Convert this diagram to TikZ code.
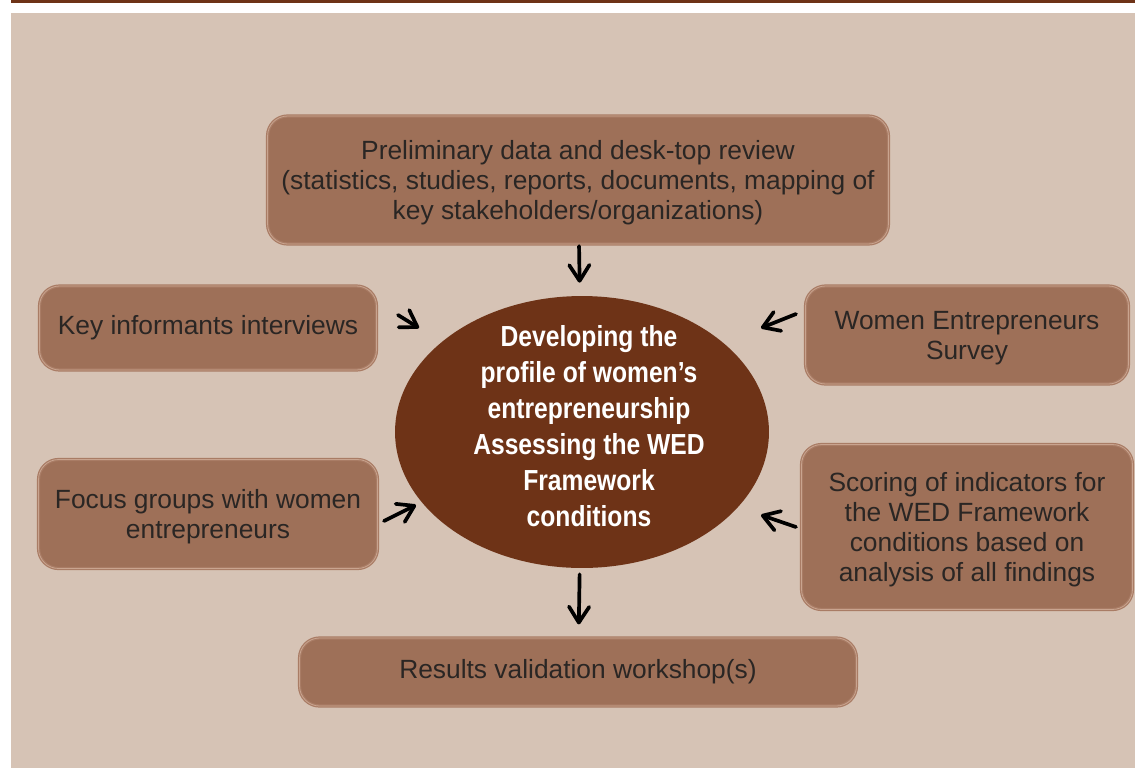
\documentclass[tikz,border=0pt]{standalone}
\usepackage{fontspec}
\setmainfont{Liberation Sans}
\newfontfamily\centrefont{Liberation Sans}[FakeStretch=0.85]
\usetikzlibrary{arrows.meta,shapes.geometric}
\definecolor{barbrown}{HTML}{6E3317}
\definecolor{paper}{HTML}{D6C3B5}
\definecolor{boxfill}{HTML}{9E7058}
\definecolor{boxedge}{HTML}{A97C65}
\definecolor{boxline}{HTML}{C9A48F}
\definecolor{ink}{HTML}{2A2624}
\tikzset{
  box/.style={rectangle, rounded corners=0.4cm, fill=boxfill, draw=boxedge,
    line width=0.7pt, double=boxline, double distance=0.45pt,
    text=ink, align=center, font=\fontsize{15}{17}\selectfont},
  multi/.style={text depth=-2.6pt},
  multilow/.style={text depth=-6pt},
  centre/.style={ellipse, fill=barbrown, inner sep=0pt},
  centretext/.style={text=white, align=center,
    font=\centrefont\bfseries\fontsize{16.5}{20.5}\selectfont},
  arr/.style={black, line width=2.1pt, line cap=round,
    -{Straight Barb[round, length=9pt, width=11.5pt]}}
}
\begin{document}
\begin{tikzpicture}[x=0.02cm,y=-0.02cm]
\useasboundingbox (0,0) rectangle (1135,768);
% frame
\fill[barbrown] (11,0) rectangle (1135,3);
\fill[paper] (11,13) rectangle (1135,768);

% centre
\node[centre, minimum width=7.48cm, minimum height=5.44cm,
  label={[centretext, yshift=0.11cm, xshift=0.14cm]center:Developing the\\profile of women’s\\entrepreneurship\\Assessing the WED\\Framework\\conditions}] (dev) at (582,432) {};

% boxes
\node[box, multilow, minimum width=12.42cm, minimum height=2.56cm] (prelim) at (578,180)
  {Preliminary data and desk-top review\\(statistics, studies, reports, documents, mapping of\\key stakeholders/organizations)};
\node[box, minimum width=6.74cm, minimum height=1.68cm] (key) at (208,328) {Key informants interviews};
\node[box, multi, minimum width=6.78cm, minimum height=2.18cm] (focus) at (208,514) {Focus groups with women\\entrepreneurs};
\node[box, multi, minimum width=6.46cm, minimum height=1.96cm] (survey) at (967,335) {Women Entrepreneurs\\Survey};
\node[box, multilow, minimum width=6.62cm, minimum height=3.3cm] (score) at (967,527) {Scoring of indicators for\\the WED Framework\\conditions based on\\analysis of all findings};
\node[box, minimum width=11.14cm, minimum height=1.36cm] (results) at (578,672) {Results validation workshop(s)};

% arrows
\coordinate (keyA) at (398,315);
\coordinate (keyB) at (419,328);
\coordinate (focA) at (384,521);
\coordinate (focB) at (416,505);
\coordinate (surA) at (796,314);
\coordinate (surB) at (761,328);
\coordinate (scoA) at (796,527);
\coordinate (scoB) at (761,515);
\draw[arr, shorten <=0.03cm, shorten >=0.26cm] (prelim) -- (dev);
\draw[arr, shorten <=0.12cm, shorten >=0.26cm] (dev) -- (results);
\draw[arr] (keyA) -- (keyB);
\draw[arr] (focA) -- (focB);
\draw[arr] (surA) -- (surB);
\draw[arr] (scoA) -- (scoB);
\end{tikzpicture}
\end{document}
